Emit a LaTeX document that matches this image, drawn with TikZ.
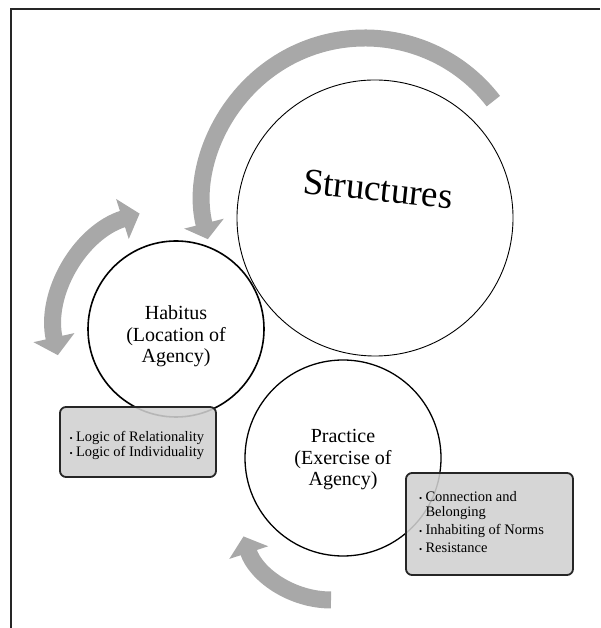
\documentclass[tikz,border=0pt]{standalone}
\usepackage{fontspec}
\setmainfont{Liberation Serif}
\usetikzlibrary{arrows.meta}
\newcommand{\itm}{\makebox[6.5pt][l]{\fontsize{9}{9}\selectfont\textbullet}}
\newcommand{\hangitm}{\hangindent=6.5pt\hangafter=1\itm}
\newcommand{\ringtext}[2][0pt]{\raisebox{#1}[\height][\depth]{\begin{tabular}{@{}c@{}}#2\end{tabular}}}
\newcommand{\boxtext}[3][0pt]{\raisebox{#1}[\height][\depth]{\begin{tabular}{@{}p{#2}@{}}#3\end{tabular}}}
\begin{document}
\begin{tikzpicture}[x=1pt,y=1pt,
  band/.style={draw=bandgray,line width=17pt},
  ring/.style={draw=black,circle,inner sep=0pt,align=center,font=\fontsize{20}{21.5}\selectfont},
  listbox/.style={draw=black!85,line width=1.8pt,fill=boxgray,fill opacity=0.88,text opacity=1,
    rounded corners=6pt,inner sep=0pt,font=\fontsize{14.5}{15.5}\selectfont}]
\definecolor{bandgray}{RGB}{168,168,168}
\definecolor{boxgray}{RGB}{208,208,208}
\useasboundingbox (0,0) rectangle (600,628);
\draw[line width=1.6pt,black!85] (600,619)--(11,619)--(11,0);
\coordinate (bigc) at (365,428);
\coordinate (lowc) at (331,120);
\draw[band,-{Triangle[width=40pt,length=16pt]}] ([shift={(37.6:162)}]bigc) arc[start angle=37.6,end angle=194,radius=162];
\node[ring,line width=0.9pt,minimum size=276pt,rotate=-6,font=\fontsize{37}{37}\selectfont] (structures) at (375,410) {\raisebox{17pt}[0pt][0pt]{Structures}};
\node[ring,line width=1.6pt,minimum size=176pt] (habitus) at (176,299) {\ringtext[-8pt]{Habitus\\(Location of\\Agency)}};
\draw[band,{Triangle[width=41pt,length=18pt]}-{Triangle[width=41pt,length=18pt]}] ([shift={(192.5:121)}]habitus.center) arc[start angle=192.5,end angle=107.5,radius=121];
\node[ring,line width=1.3pt,minimum size=196pt] (practice) at (343,170) {\ringtext[-2pt]{Practice\\(Exercise of\\Agency)}};
\draw[band,-{Triangle[width=40pt,length=17pt]}] ([shift={(270:92)}]lowc) arc[start angle=270,end angle=198,radius=92];
\node[listbox,minimum width=156pt,minimum height=70pt] (habitusbox) at (138,186) {\boxtext[-4pt]{137pt}{\itm Logic of Relationality\\\itm Logic of Individuality}};
\node[listbox,minimum width=167pt,minimum height=102pt] (practicebox) at (489.5,104) {\boxtext{141pt}{\hangitm Connection and\newline Belonging\\[2.5pt]\itm Inhabiting of Norms\\[2.5pt]\itm Resistance}};
\end{tikzpicture}
\end{document}
